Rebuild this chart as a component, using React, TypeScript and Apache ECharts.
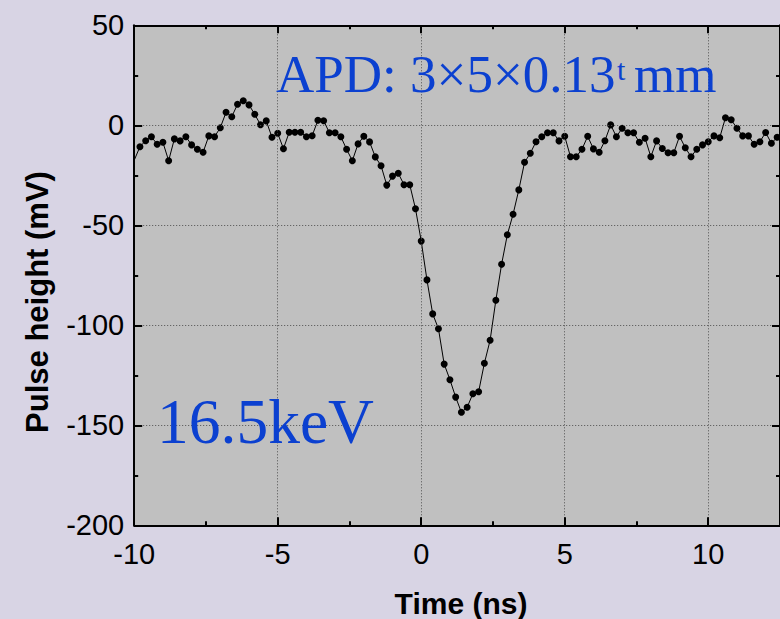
import React, { useEffect, useRef } from "react";
import * as echarts from "echarts";

// Time axis samples (ns)
const times: number[] = [
  -10.0, -9.8, -9.6, -9.4, -9.2, -9.0, -8.8, -8.6, -8.4, -8.2,
  -8.0, -7.8, -7.6, -7.4, -7.2, -7.0, -6.8, -6.6, -6.4, -6.2,
  -6.0, -5.8, -5.6, -5.4, -5.2, -5.0, -4.8, -4.6, -4.4, -4.2,
  -4.0, -3.8, -3.6, -3.4, -3.2, -3.0, -2.8, -2.6, -2.4, -2.2,
  -2.0, -1.8, -1.6, -1.4, -1.2, -1.0, -0.8, -0.6, -0.4, -0.2,
  0.0, 0.2, 0.4, 0.6, 0.8, 1.0, 1.2, 1.4, 1.6, 1.8,
  2.0, 2.2, 2.4, 2.6, 2.8, 3.0, 3.2, 3.4, 3.6, 3.8,
  4.0, 4.2, 4.4, 4.6, 4.8, 5.0, 5.2, 5.4, 5.6, 5.8,
  6.0, 6.2, 6.4, 6.6, 6.8, 7.0, 7.2, 7.4, 7.6, 7.8,
  8.0, 8.2, 8.4, 8.6, 8.8, 9.0, 9.2, 9.4, 9.6, 9.8,
  10.0, 10.2, 10.4, 10.6, 10.8, 11.0, 11.2, 11.4, 11.6, 11.8,
  12.0, 12.2, 12.4,
];

// Pulse height (mV)
const pulseHeight: number[] = [
  -17.5, -10.7, -7.7, -5.7, -9.5, -8.5, -17.7, -6.8, -7.8, -5.7,
  -9.8, -12.0, -13.5, -5.3, -5.7, -1.2, 6.5, 4.3, 10.5, 12.3,
  10.2, 5.5, 0.3, 2.2, -6.0, -4.0, -11.7, -3.5, -3.5, -3.5,
  -5.7, -5.2, 2.5, 2.3, -3.7, -3.7, -5.7, -12.0, -17.7, -9.3,
  -5.5, -8.3, -15.8, -20.2, -29.9, -25.4, -24.0, -29.7, -29.7, -41.7,
  -57.9, -77.3, -94.3, -101.7, -119.4, -127.2, -135.9, -143.5, -141.0, -134.2,
  -133.2, -119.0, -107.5, -87.5, -69.5, -54.7, -44.5, -32.3, -18.5, -14.0,
  -8.2, -5.7, -3.7, -3.7, -7.8, -5.5, -15.7, -15.7, -12.0, -5.5,
  -11.8, -13.5, -7.7, 0.2, -5.7, -1.5, -3.7, -3.7, -8.5, -6.5,
  -15.7, -7.8, -11.6, -13.7, -13.7, -5.5, -11.2, -15.7, -12.0, -9.8,
  -8.2, -5.3, -6.2, 3.8, 2.8, -1.5, -5.3, -5.3, -9.5, -8.2,
  -3.6, -9.0, -6.0,
];

const X_MIN = -10;
const X_MAX = 12.5;
const Y_MIN = -200;
const Y_MAX = 50;

const SANS = "'Liberation Sans', Arial, sans-serif";
const SERIF = "'Liberation Serif', 'Times New Roman', serif";
const BLUE = "#0b40d0";

export default function App() {
  const ref = useRef<HTMLDivElement>(null);

  useEffect(() => {
    if (!ref.current) return;
    const chart = echarts.init(ref.current, undefined, { renderer: "svg" });

    const splitStyle = { show: true, lineStyle: { color: "#505050", width: 1, type: [1, 2] as any } };
    const noLabel = { show: false };

    const xMajor = (position: "bottom" | "top", labels: boolean, split: boolean) => ({
      type: "value",
      position,
      min: X_MIN,
      max: X_MAX,
      interval: 5,
      axisLine: { show: true, onZero: false, lineStyle: { color: "#000", width: 2 } },
      axisTick: { show: true, inside: true, length: 8, lineStyle: { color: "#000", width: 2 } },
      axisLabel: labels
        ? { show: true, margin: 14, fontSize: 29, color: "#000", fontFamily: SANS, showMaxLabel: false }
        : noLabel,
      splitLine: split ? splitStyle : { show: false },
      z: 5,
    });
    const xMinor = (position: "bottom" | "top") => ({
      type: "value",
      position,
      min: X_MIN,
      max: X_MAX,
      interval: 2.5,
      axisLine: { show: false, onZero: false },
      axisTick: { show: true, inside: true, length: 4, lineStyle: { color: "#000", width: 2 } },
      axisLabel: noLabel,
      splitLine: { show: false },
      z: 5,
    });
    const yMajor = (position: "left" | "right", labels: boolean, split: boolean) => ({
      type: "value",
      position,
      min: Y_MIN,
      max: Y_MAX,
      interval: 50,
      axisLine: { show: true, onZero: false, lineStyle: { color: "#000", width: 2 } },
      axisTick: { show: true, inside: true, length: 8, lineStyle: { color: "#000", width: 2 } },
      axisLabel: labels
        ? { show: true, margin: 10, fontSize: 29, color: "#000", fontFamily: SANS }
        : noLabel,
      splitLine: split ? splitStyle : { show: false },
      z: 5,
    });
    const yMinor = (position: "left" | "right") => ({
      type: "value",
      position,
      min: Y_MIN,
      max: Y_MAX,
      interval: 25,
      axisLine: { show: false, onZero: false },
      axisTick: { show: true, inside: true, length: 4, lineStyle: { color: "#000", width: 2 } },
      axisLabel: noLabel,
      splitLine: { show: false },
      z: 5,
    });

    // the sample sitting on the left frame is hidden behind the axis in the original
    const data = times.map((t, i) =>
      t <= X_MIN ? { value: [t, pulseHeight[i]], symbol: "none" } : [t, pulseHeight[i]]
    );

    chart.setOption({
      animation: false,
      backgroundColor: "#d8d4e4",
      grid: {
        show: true,
        left: 134.2,
        top: 25.3,
        bottom: 93.7,
        right: -7.4,
        backgroundColor: "#c0c0c0",
        borderWidth: 0,
      },
      xAxis: [
        xMajor("bottom", true, true),
        xMinor("bottom"),
        xMajor("top", false, false),
        xMinor("top"),
      ],
      yAxis: [
        yMajor("left", true, true),
        yMinor("left"),
        yMajor("right", false, false),
        yMinor("right"),
      ],
      series: [
        {
          type: "line",
          xAxisIndex: 0,
          yAxisIndex: 0,
          data,
          symbol: "circle",
          symbolSize: 7,
          showAllSymbol: true,
          itemStyle: { color: "#000" },
          lineStyle: { color: "#000", width: 1 },
          z: 3,
        },
      ],
      graphic: [
        {
          type: "text",
          x: 276,
          y: 74,
          z: 100,
          style: { text: "APD: 3×5×0.13", fontSize: 53, fontFamily: SERIF, fill: BLUE, align: "left", verticalAlign: "middle" },
        },
        {
          type: "text",
          x: 617,
          y: 69,
          z: 100,
          style: { text: "t", fontSize: 30, fontFamily: SERIF, fill: BLUE, align: "left", verticalAlign: "middle" },
        },
        {
          type: "text",
          x: 634,
          y: 74,
          z: 100,
          style: { text: "mm", fontSize: 53, fontFamily: SERIF, fill: BLUE, align: "left", verticalAlign: "middle" },
        },
        {
          type: "text",
          x: 157,
          y: 421.5,
          z: 100,
          style: { text: "16.5keV", fontSize: 63.5, fontFamily: SERIF, fill: BLUE, align: "left", verticalAlign: "middle" },
        },
        {
          type: "text",
          x: 461,
          y: 603,
          z: 100,
          style: { text: "Time (ns)", fontSize: 30, fontWeight: "bold", fontFamily: SANS, fill: "#000", align: "center", verticalAlign: "middle" },
        },
        {
          type: "text",
          x: 37,
          y: 302,
          rotation: Math.PI / 2,
          z: 100,
          style: { text: "Pulse height (mV)", fontSize: 31, fontWeight: "bold", fontFamily: SANS, fill: "#000", align: "center", verticalAlign: "middle" },
        },
      ],
    });

    return () => chart.dispose();
  }, []);

  return (
    <div
      ref={ref}
      style={{ position: "fixed", left: 0, top: 0, width: 780, height: 619, background: "#d8d4e4" }}
    />
  );
}
